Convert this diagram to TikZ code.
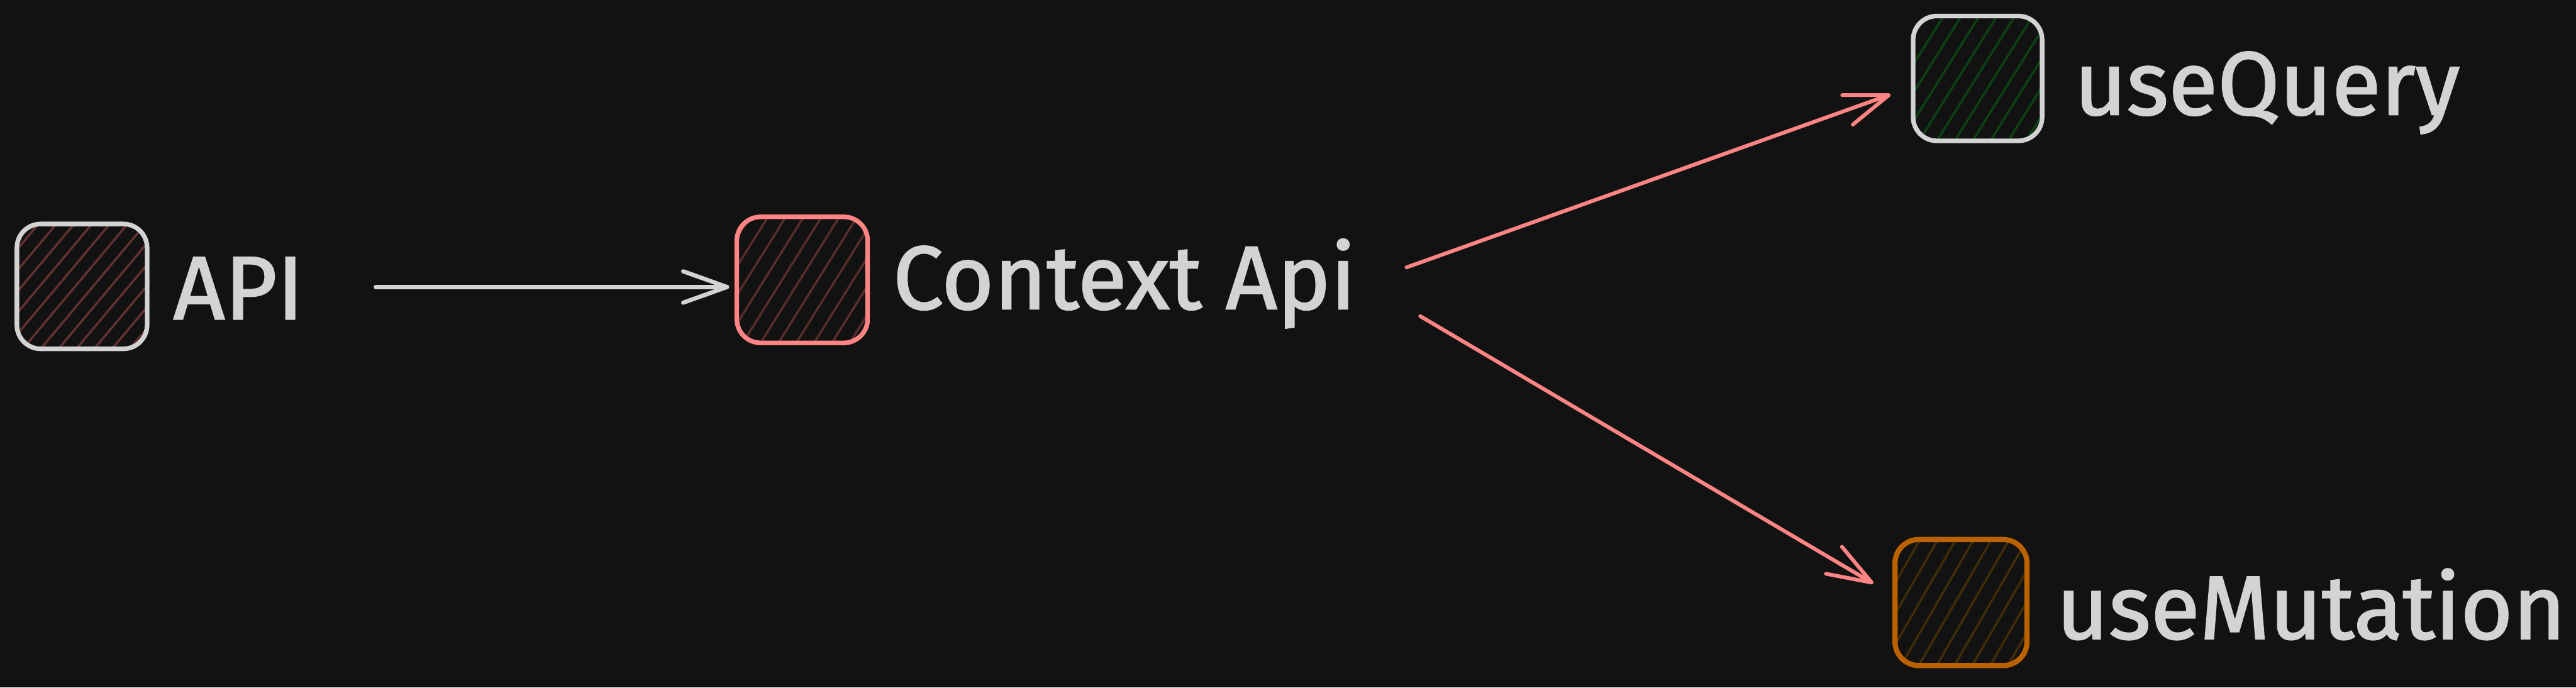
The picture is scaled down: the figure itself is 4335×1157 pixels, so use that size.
\documentclass[tikz,border=0pt]{standalone}
\usepackage{fontspec}
\setmainfont{Fira Sans}
\newfontfamily\lblfont{Fira Sans}[FakeBold=1.6]
\usetikzlibrary{arrows.meta,calc}
\definecolor{bg}{HTML}{121212}
\definecolor{ink}{HTML}{D3D3D3}
\definecolor{redink}{HTML}{FF8585}
\definecolor{orangeink}{HTML}{BA6200}
\definecolor{hatchred}{HTML}{633230}
\definecolor{hatchred2}{HTML}{582E2C}
\definecolor{hatchgreen}{HTML}{0C4214}
\definecolor{hatchbrown}{HTML}{412E08}
\tikzset{
  hatchfill/.style 2 args={path picture={
    \foreach \t in {-260,-230,...,260}
      \draw[#1, line width=1.05pt] ([xshift=\t*0.01cm]path picture bounding box.south west) -- ++(#2:420);
  }},
  sbox/.style={rectangle, rounded corners=0.4cm, line width=2.2pt, inner sep=0pt},
  lbl/.style={text=ink, font=\lblfont\fontsize{43}{50}\selectfont, inner sep=0pt, anchor=base west},
  conn/.style={line width=1.8pt, line cap=round, line join=round,
    -{Straight Barb[round, length=21pt, width=15pt]}},
}
\begin{document}
\begin{tikzpicture}[x=0.01cm, y=0.01cm]
\fill[bg] (0,0) rectangle (4335,1157);
\useasboundingbox (0,0) rectangle (4335,1157);

% boxes
\node[sbox, draw=ink, minimum width=2.19cm, minimum height=2.10cm, hatchfill={hatchred}{50}] (api) at (138,675) {};
\node[sbox, draw=redink, minimum width=2.20cm, minimum height=2.12cm, hatchfill={hatchred2}{58}] (ctx) at (1350,686) {};
\node[sbox, draw=ink, minimum width=2.17cm, minimum height=2.10cm, hatchfill={hatchgreen}{58}] (uq) at (3328,1025) {};
\node[sbox, draw=orangeink, line width=2.5pt, minimum width=2.22cm, minimum height=2.12cm, hatchfill={hatchbrown}{60}] (um) at (3300,143) {};

% labels
\node[lbl] (apilab) at (291,620) {API};
\node[lbl] (ctxlab) at (1502,637) {Context Api};
\node[lbl] (uqlab) at (3490,964) {useQuery};
\node[lbl] (umlab) at (3460,82) {useMutation};

% connectors
\draw[conn, ink, line width=2pt] ($(api.east)+(381,-1)$) -- ($(ctx.west)+(-9,-12)$);
\draw[conn, redink] ($(ctx.east)+(903,21)$) -- ($(uq.west)+(-34,-27)$);
\draw[conn, redink] ($(ctx.east)+(926,-61)$) -- ($(um.west)+(-32,32)$);
\end{tikzpicture}
\end{document}
